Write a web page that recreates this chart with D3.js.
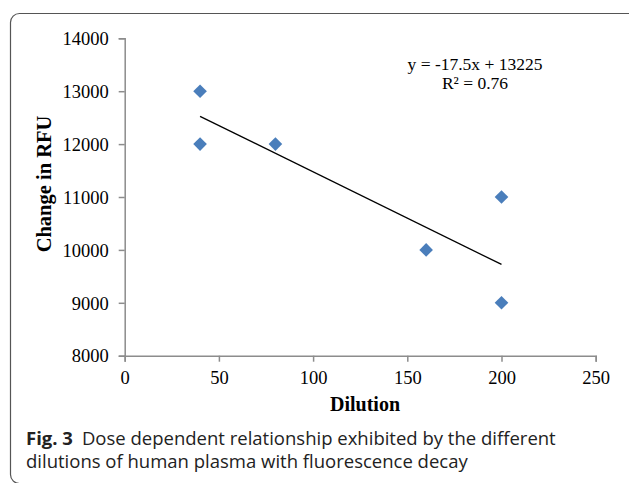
<!DOCTYPE html>
<html>
<head>
<meta charset="utf-8">
<script src="https://cdn.jsdelivr.net/npm/d3@7"></script>
<style>
  body { margin: 0; background: #fff; }
  svg { display: block; }
</style>
</head>
<body>
<svg id="chart"></svg>
<script>
// Dilution vs change in RFU
const dilution = [40, 40, 80, 160, 200, 200];
const rfuChange = [13000, 12000, 12000, 10000, 11000, 9000];
const xTicks = [0, 50, 100, 150, 200, 250];
const yTicks = [8000, 9000, 10000, 11000, 12000, 13000, 14000];
const trendSlope = -17.5;
const trendIntercept = 13225;
const equationLines = ["y = -17.5x + 13225", "R² = 0.76"];

const width = 629;
const height = 483;
const margin = { top: 38.3, right: 33, bottom: 127.3, left: 124.7 };

const svg = d3.select("#chart")
    .attr("width", width)
    .attr("height", height);

// Outer rounded frame
svg.append("rect")
    .attr("x", 10.5)
    .attr("y", 13.5)
    .attr("width", 630)
    .attr("height", 470)
    .attr("rx", 9)
    .attr("fill", "none")
    .attr("stroke", "#555")
    .attr("stroke-width", 1.2);

const xScale = d3.scaleLinear()
    .domain([0, 250])
    .range([margin.left, width - margin.right - 0.3]);

const yScale = d3.scaleLinear()
    .domain([8000, 14000])
    .range([height - margin.bottom, margin.top]);

const serif = "'Liberation Serif', 'Times New Roman', serif";

// x-axis
const xAxis = svg.append("g")
    .attr("transform", `translate(0, ${yScale(8000)})`)
    .call(d3.axisBottom(xScale).tickValues(xTicks).tickSize(6).tickPadding(8).tickFormat(d3.format("d")));

// y-axis
const yAxis = svg.append("g")
    .attr("transform", `translate(${xScale(0)}, 0)`)
    .call(d3.axisLeft(yScale).tickValues(yTicks).tickSize(6).tickPadding(10).tickFormat(d3.format("d")));

[xAxis, yAxis].forEach(g => {
    g.select(".domain").attr("stroke", "#8c8c8c").attr("stroke-width", 1.5);
    g.selectAll(".tick line").attr("stroke", "#8c8c8c").attr("stroke-width", 1.5);
    g.selectAll(".tick text")
        .attr("fill", "#000")
        .style("font-family", serif)
        .style("font-size", "18.5px");
});
yAxis.selectAll(".tick text").attr("dy", "0.34em");
xAxis.selectAll(".tick text").attr("dy", "0.75em");

// Trendline over the data range
const xMin = d3.min(dilution);
const xMax = d3.max(dilution);
svg.append("line")
    .attr("x1", xScale(xMin))
    .attr("y1", yScale(trendSlope * xMin + trendIntercept))
    .attr("x2", xScale(xMax))
    .attr("y2", yScale(trendSlope * xMax + trendIntercept))
    .attr("stroke", "#000")
    .attr("stroke-width", 1.3);

// Diamond markers
const points = dilution.map((d, i) => ({ x: d, y: rfuChange[i] }));
svg.selectAll(".pt")
    .data(points)
    .enter()
    .append("path")
    .attr("class", "pt")
    .attr("transform", d => `translate(${xScale(d.x)}, ${yScale(d.y)})`)
    .attr("d", "M0,-6.8L6.8,0L0,6.8L-6.8,0Z")
    .attr("fill", "#4a7ebb");

// Regression equation
svg.selectAll(".eq")
    .data(equationLines)
    .enter()
    .append("text")
    .attr("class", "eq")
    .attr("x", 475)
    .attr("y", (d, i) => 70 + i * 19)
    .attr("text-anchor", "middle")
    .style("font-family", serif)
    .style("font-size", "17.5px")
    .text(d => d);

// Axis titles
svg.append("text")
    .attr("x", 365)
    .attr("y", 411)
    .attr("text-anchor", "middle")
    .style("font-family", serif)
    .style("font-size", "20px")
    .style("font-weight", "bold")
    .text("Dilution");

svg.append("text")
    .attr("transform", "translate(51, 184) rotate(-90)")
    .attr("text-anchor", "middle")
    .style("font-family", serif)
    .style("font-size", "20.5px")
    .style("font-weight", "bold")
    .text("Change in RFU");

// Caption
const caption = svg.append("text")
    .style("font-family", "'Open Sans', 'Noto Sans', sans-serif")
    .style("font-size", "18.5px")
    .attr("fill", "#222");
caption.append("tspan")
    .attr("x", 26).attr("y", 445)
    .style("font-weight", "bold")
    .text("Fig. 3");
caption.append("tspan")
    .attr("dx", 9)
    .text("Dose dependent relationship exhibited by the different");
caption.append("tspan")
    .attr("x", 26).attr("y", 468)
    .text("dilutions of human plasma with fluorescence decay");
</script>
</body>
</html>
